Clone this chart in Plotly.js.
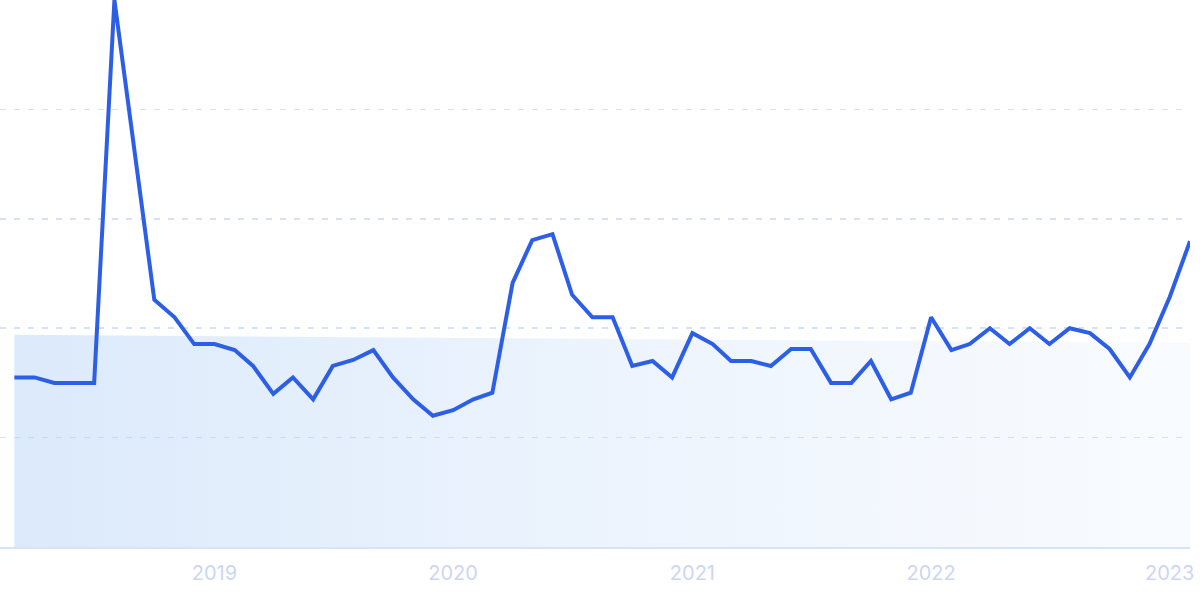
<!DOCTYPE html>
<html>
<head>
<meta charset="utf-8">
<script src="https://cdn.plot.ly/plotly-3.0.1.min.js"></script>
<style>
html,body{margin:0;padding:0;background:#fff;}
#chart{width:1200px;height:599px;}
</style>
</head>
<body>
<div id="chart"></div>
<script>
const months = [
 '2018-03-01','2018-04-01','2018-05-01','2018-06-01','2018-07-01','2018-08-01','2018-09-01','2018-10-01','2018-11-01','2018-12-01',
 '2019-01-01','2019-02-01','2019-03-01','2019-04-01','2019-05-01','2019-06-01','2019-07-01','2019-08-01','2019-09-01','2019-10-01',
 '2019-11-01','2019-12-01','2020-01-01','2020-02-01','2020-03-01','2020-04-01','2020-05-01','2020-06-01','2020-07-01','2020-08-01',
 '2020-09-01','2020-10-01','2020-11-01','2020-12-01','2021-01-01','2021-02-01','2021-03-01','2021-04-01','2021-05-01','2021-06-01',
 '2021-07-01','2021-08-01','2021-09-01','2021-10-01','2021-11-01','2021-12-01','2022-01-01','2022-02-01','2022-03-01','2022-04-01',
 '2022-05-01','2022-06-01','2022-07-01','2022-08-01','2022-09-01','2022-10-01','2022-11-01','2022-12-01','2023-01-01','2023-02-01'
];
const interest = [
 31,31,30,30,30,100,72.6,45.2,42,37.1,
 37.1,36,33.1,28,31,27,33.1,34.2,36,31,
 27,24,25,27,28.2,48.3,56.1,57.2,46.1,42,
 42,33.1,34,31,39.1,37.1,34,34,33.1,36.2,
 36.2,30,30,34,27,28.2,42,36,37.1,40,
 37.1,40,37.1,40,39.1,36.2,31,37.1,45.7,55.9
];
const trendDates = ['2018-03-01','2023-02-01'];
const trendValues = [38.8, 37.3];
const yearTicks = ['2019-01-01','2020-01-01','2021-01-01','2022-01-01','2023-01-01'];
const yearLabels = ['2019','2020','2021','2022','2023'];

const traces = [
 {
  x: trendDates, y: trendValues, type:'scatter', mode:'lines',
  line:{width:0, color:'rgba(0,0,0,0)'},
  fill:'tozeroy',
  fillcolor:'rgba(170,204,245,0.4)',
  fillgradient:{type:'horizontal', colorscale:[[0,'rgba(170,204,245,0.42)'],[1,'rgba(200,222,250,0.12)']]},
  hoverinfo:'skip', showlegend:false
 },
 {
  x: months, y: interest, type:'scatter', mode:'lines',
  line:{color:'#2d5fe6', width:4, shape:'linear'},
  showlegend:false
 }
];

const layout = {
 width:1200, height:599,
 margin:{l:0, r:10, t:0, b:52, pad:0},
 paper_bgcolor:'#ffffff', plot_bgcolor:'#ffffff',
 xaxis:{
  type:'date',
  range:['2018-02-07','2023-02-01'],
  tickvals: yearTicks, ticktext: yearLabels,
  showgrid:false, zeroline:false,
  showline:true, linecolor:'#d6e4f8', linewidth:2,
  ticks:'', ticklabelstandoff:7,
  tickfont:{family:'Inter, "Open Sans", sans-serif', size:20, color:'#ccd6f4'}
 },
 yaxis:{
  range:[0,100], dtick:20, tick0:0,
  showgrid:true, gridcolor:'#d3e1fb', gridwidth:1.5, griddash:'6px,8px',
  zeroline:false, showticklabels:false, ticks:'', showline:false
 },
 showlegend:false
};

Plotly.newPlot('chart', traces, layout, {displayModeBar:false, staticPlot:true});
</script>
</body>
</html>
